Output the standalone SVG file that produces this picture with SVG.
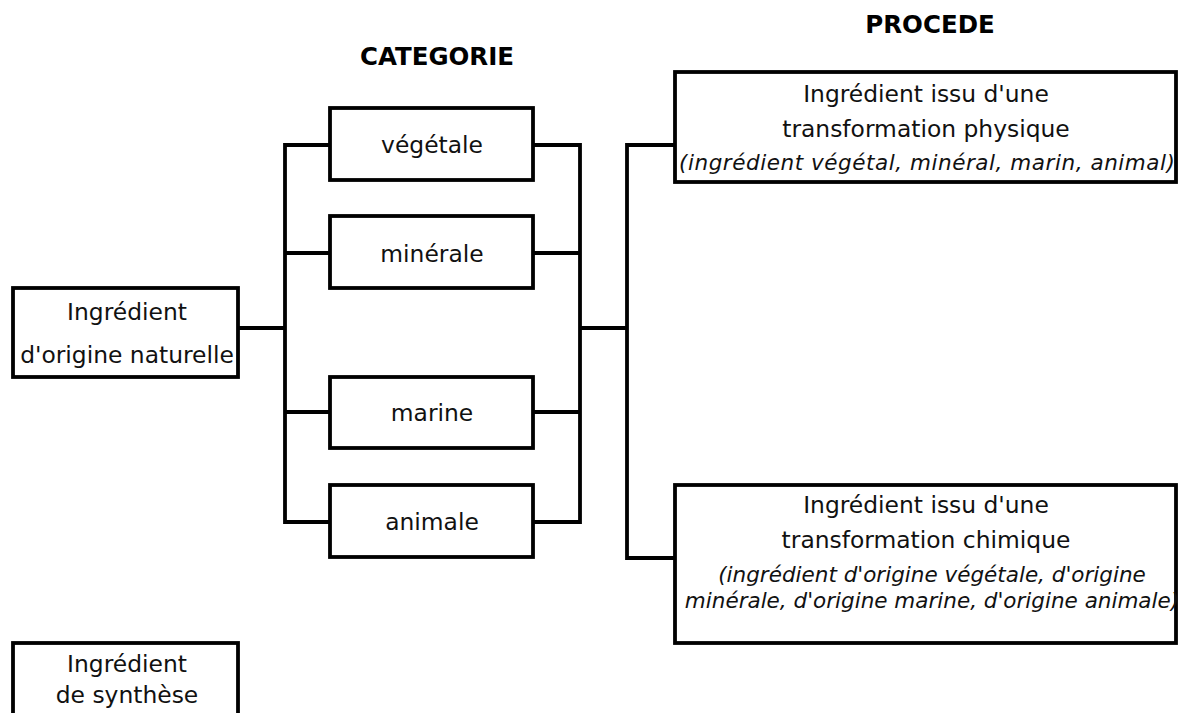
<svg xmlns="http://www.w3.org/2000/svg" width="1178" height="713" viewBox="0 0 1178 713">
<style>
.box{fill:#fff;stroke:#000;stroke-width:3.8}
.ln{fill:none;stroke:#000;stroke-width:3.8;stroke-linecap:square}
text{font-family:"DejaVu Sans","Liberation Sans",sans-serif;fill:#111;text-anchor:middle}
.t{font-size:23.4px}
.i{font-size:21.5px;font-style:italic}
.h{font-size:24.5px;font-weight:bold;fill:#000}
</style>
<rect width="1178" height="713" fill="#fff"/>
<g id="connectors">
<path class="ln" d="M238,328H285M285,145V522M285,145H330M285,253H330M285,412H330M285,522H330"/>
<path class="ln" d="M533,145H580M533,253H580M533,412H580M533,522H580M580,145V522M580,328H627M627,145V558M627,145H675M627,558H675"/>
</g>
<g id="title-categorie"><text class="h" x="437" y="65">CATEGORIE</text></g>
<g id="title-procede"><text class="h" x="930" y="33">PROCEDE</text></g>
<g id="naturel">
<rect class="box" x="13" y="288" width="225" height="89"/>
<text class="t" x="127" y="320">Ingrédient</text>
<text class="t" x="127" y="363">d'origine naturelle</text>
</g>
<g id="synthese">
<rect class="box" x="13" y="643" width="225" height="90"/>
<text class="t" x="127" y="672">Ingrédient</text>
<text class="t" x="127" y="703">de synthèse</text>
</g>
<g id="vegetale">
<rect class="box" x="330" y="108" width="203" height="72"/>
<text class="t" x="432" y="153">végétale</text>
</g>
<g id="minerale">
<rect class="box" x="330" y="216" width="203" height="72"/>
<text class="t" x="432" y="262">minérale</text>
</g>
<g id="marine">
<rect class="box" x="330" y="377" width="203" height="71"/>
<text class="t" x="432" y="421">marine</text>
</g>
<g id="animale">
<rect class="box" x="330" y="485" width="203" height="72"/>
<text class="t" x="432" y="530">animale</text>
</g>
<g id="physique">
<rect class="box" x="675" y="72" width="501" height="110"/>
<text class="t" x="926" y="102">Ingrédient issu d'une</text>
<text class="t" x="926" y="137">transformation physique</text>
<text class="i" x="927" y="170" textLength="496" lengthAdjust="spacing">(ingrédient végétal, minéral, marin, animal)</text>
</g>
<g id="chimique">
<rect class="box" x="675" y="485" width="501" height="158"/>
<text class="t" x="926" y="513">Ingrédient issu d'une</text>
<text class="t" x="926" y="548">transformation chimique</text>
<text class="i" x="932" y="582">(ingrédient d'origine végétale, d'origine</text>
<text class="i" x="932" y="608">minérale, d'origine marine, d'origine animale)</text>
</g>
</svg>
